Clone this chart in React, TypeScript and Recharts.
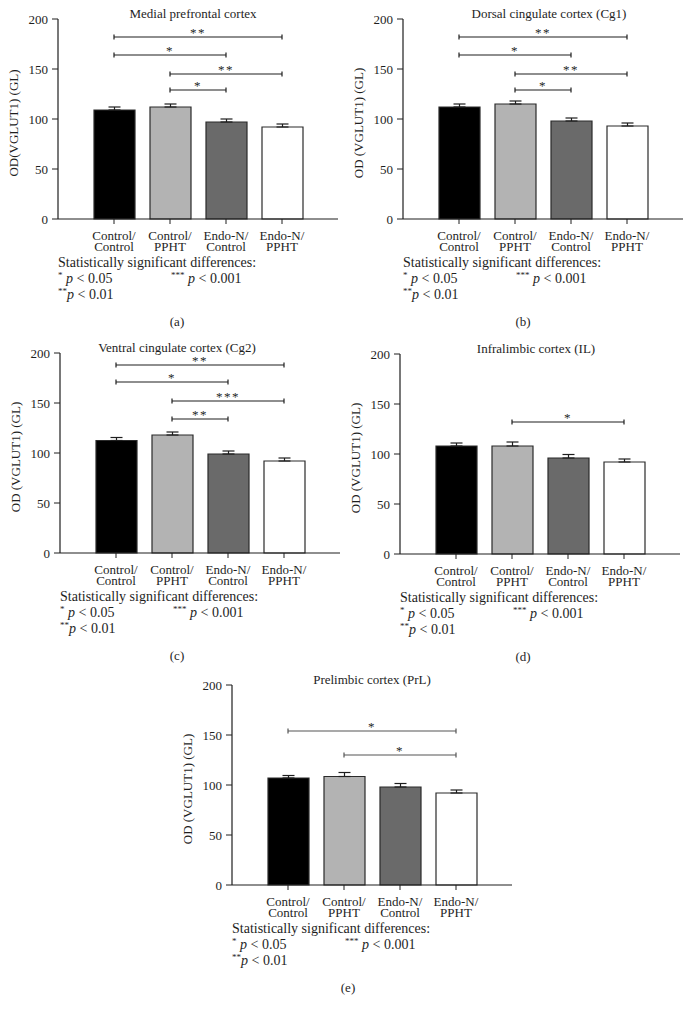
import React from "react";
import { BarChart, Bar, XAxis, YAxis, Cell, ErrorBar, ReferenceLine } from "recharts";

const groups = ["Control/Control", "Control/PPHT", "Endo-N/Control", "Endo-N/PPHT"];
const yTicks = [0, 50, 100, 150, 200];

// bar means and error (upper half only) per region
const mpfcMean = [109, 112, 97, 92];
const mpfcSem = [3, 3, 3, 3];
const cg1Mean = [112, 115, 98, 93];
const cg1Sem = [3, 3, 3, 3];
const cg2Mean = [112.5, 118, 99, 92];
const cg2Sem = [3, 3, 3, 3];
const ilMean = [108, 108, 96, 92];
const ilSem = [3, 4, 3.5, 3];
const prlMean = [107, 108.5, 98, 92];
const prlSem = [2.5, 4, 3.5, 3];

// significance brackets: [from group, to group, height, stars]
type Sig = [number, number, number, string];
const mpfcSig: Sig[] = [[0, 3, 182, "**"], [0, 2, 164, "*"], [1, 3, 145, "**"], [1, 2, 129, "*"]];
const cg1Sig: Sig[] = [[0, 3, 182, "**"], [0, 2, 164, "*"], [1, 3, 145, "**"], [1, 2, 129, "*"]];
const cg2Sig: Sig[] = [[0, 3, 188, "**"], [0, 2, 171, "*"], [1, 3, 152, "***"], [1, 2, 134, "**"]];
const ilSig: Sig[] = [[1, 3, 132, "*"]];
const prlSig: Sig[] = [[0, 3, 154, "*"], [1, 3, 130, "*"]];

const serif = '"Liberation Serif", "DejaVu Serif", serif';
const ink = "#1e1e1e";
const barFills = ["#000000", "#b3b3b3", "#6a6a6a", "#ffffff"];

type PanelDef = {
  letter: string;
  title: string;
  yLabel: string;
  mean: number[];
  sem: number[];
  sig: Sig[];
  axisX: number;
  y0: number;
  titleX: number;
  letterX: number;
  sigColor: string;
};

const panels: PanelDef[] = [
  { letter: "(a)", title: "Medial prefrontal cortex", yLabel: "OD(VGLUT1) (GL)", mean: mpfcMean, sem: mpfcSem, sig: mpfcSig, axisX: 58, y0: 219, titleX: 193, letterX: 177, sigColor: ink },
  { letter: "(b)", title: "Dorsal cingulate cortex (Cg1)", yLabel: "OD (VGLUT1) (GL)", mean: cg1Mean, sem: cg1Sem, sig: cg1Sig, axisX: 403, y0: 219, titleX: 549, letterX: 523, sigColor: ink },
  { letter: "(c)", title: "Ventral cingulate cortex (Cg2)", yLabel: "OD (VGLUT1) (GL)", mean: cg2Mean, sem: cg2Sem, sig: cg2Sig, axisX: 60, y0: 553, titleX: 177, letterX: 177, sigColor: ink },
  { letter: "(d)", title: "Infralimbic cortex (IL)", yLabel: "OD (VGLUT1) (GL)", mean: ilMean, sem: ilSem, sig: ilSig, axisX: 400, y0: 554, titleX: 536, letterX: 523, sigColor: ink },
  { letter: "(e)", title: "Prelimbic cortex (PrL)", yLabel: "OD (VGLUT1) (GL)", mean: prlMean, sem: prlSem, sig: prlSig, axisX: 232, y0: 885, titleX: 372, letterX: 348, sigColor: "#555" },
];

function GroupTick(props: any) {
  const { x, y, payload } = props;
  const [top, bottom] = String(payload.value).split("/");
  return (
    <text textAnchor="middle" fontFamily={serif} fontSize={13} fill={ink}>
      <tspan x={x} y={y + 14}>{top}/</tspan>
      <tspan x={x} y={y + 25}>{bottom}</tspan>
    </text>
  );
}

function Panel({ p }: { p: PanelDef }) {
  const data = groups.map((g, i) => ({ group: g, mean: p.mean[i], err: [0, p.sem[i]] }));
  const lineProps = { stroke: p.sigColor, strokeWidth: 1.2, ifOverflow: "visible" as const };
  return (
    <div style={{ position: "absolute", left: p.axisX - 58, top: p.y0 - 219 }}>
      <BarChart width={346} height={262} data={data} margin={{ top: 19, right: 8, left: 0, bottom: 0 }}>
        <XAxis
          dataKey="group"
          padding={{ left: 28, right: 28 }}
          height={43}
          interval={0}
          tickSize={5}
          axisLine={{ stroke: ink, strokeWidth: 1.2 }}
          tickLine={{ stroke: ink }}
          tick={<GroupTick />}
        />
        <YAxis
          width={58}
          domain={[0, 200]}
          ticks={yTicks}
          tickSize={6}
          tickMargin={4}
          axisLine={{ stroke: ink, strokeWidth: 1.2 }}
          tickLine={{ stroke: ink }}
          tick={{ fill: ink, fontSize: 13, fontFamily: serif }}
        />
        <Bar dataKey="mean" barSize={41} stroke="#2a2a2a" strokeWidth={1.2} isAnimationActive={false}>
          {data.map((d, i) => (
            <Cell key={d.group} fill={barFills[i]} />
          ))}
          <ErrorBar dataKey="err" direction="y" width={6} stroke={ink} strokeWidth={1.2} />
        </Bar>
        {p.sig.flatMap(([a, b, y, stars], k) => [
          <ReferenceLine
            key={`m${k}`}
            segment={[{ x: groups[a], y }, { x: groups[b], y }]}
            {...lineProps}
            label={{ value: stars, position: "top", offset: 0, fill: ink, fontSize: 13, fontFamily: serif, letterSpacing: 1.5 }}
          />,
          <ReferenceLine key={`l${k}`} segment={[{ x: groups[a], y: y - 2.5 }, { x: groups[a], y: y + 2.5 }]} {...lineProps} />,
          <ReferenceLine key={`r${k}`} segment={[{ x: groups[b], y: y - 2.5 }, { x: groups[b], y: y + 2.5 }]} {...lineProps} />,
        ])}
      </BarChart>
    </div>
  );
}

function Notes({ p }: { p: PanelDef }) {
  const x = p.axisX;
  return (
    <g fontFamily={serif} fill={ink}>
      <text x={p.titleX} y={p.y0 - 201} fontSize={13} textAnchor="middle">{p.title}</text>
      <text transform={`translate(${p.axisX - 40},${p.y0 - 96}) rotate(-90)`} fontSize={13} textAnchor="middle">{p.yLabel}</text>
      <text x={x} y={p.y0 + 48} fontSize={14}>Statistically significant differences:</text>
      <text x={x} y={p.y0 + 64} fontSize={14}>
        <tspan fontSize={9} dy={-5}>*</tspan>
        <tspan dy={5} fontStyle="italic"> p</tspan> &lt; 0.05
      </text>
      <text x={x + 113} y={p.y0 + 64} fontSize={14}>
        <tspan fontSize={9} dy={-5}>***</tspan>
        <tspan dy={5} fontStyle="italic"> p</tspan> &lt; 0.001
      </text>
      <text x={x} y={p.y0 + 80} fontSize={14}>
        <tspan fontSize={9} dy={-5}>**</tspan>
        <tspan dy={5} fontStyle="italic">p</tspan> &lt; 0.01
      </text>
      <text x={p.letterX} y={p.y0 + 107} fontSize={13} textAnchor="middle">{p.letter}</text>
    </g>
  );
}

export default function App() {
  return (
    <div style={{ position: "absolute", left: 0, top: 0, width: 692, height: 1016, background: "#fff" }}>
      {panels.map((p) => (
        <Panel key={p.letter} p={p} />
      ))}
      <svg width={692} height={1016} style={{ position: "absolute", left: 0, top: 0, pointerEvents: "none" }}>
        {panels.map((p) => (
          <Notes key={p.letter} p={p} />
        ))}
      </svg>
    </div>
  );
}
